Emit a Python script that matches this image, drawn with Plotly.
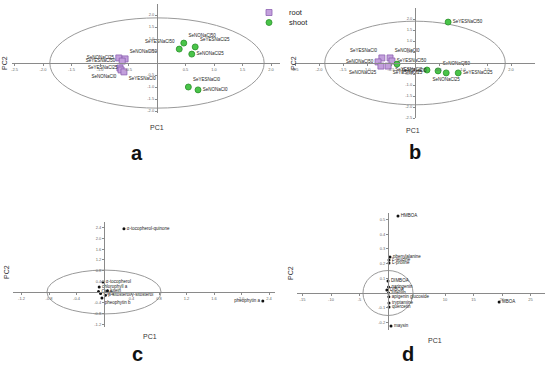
import plotly.graph_objects as go

W, H = 550, 378

# ---------------- data ----------------
# Panel a (scores)
a_root_names = ["SeNONaCl25", "SeNONaCl50", "SeYESNaCl25", "SeYESNaCl50", "SeNONaCl0", "SeYESNaCl0"]
a_root_x = [-0.67, -0.56, -0.61, -0.65, -0.63, -0.58]
a_root_y = [0.21, 0.17, 0.08, -0.21, -0.29, -0.37]
a_shoot_names = ["SeNONaCl50", "SeYESNaCl25", "SeYESNaCl50", "SeNONaCl25", "SeYESNaCl0", "SeNONaCl0"]
a_shoot_x = [0.47, 0.67, 0.39, 0.61, 0.55, 0.72]
a_shoot_y = [0.83, 0.67, 0.58, 0.37, -1.0, -1.12]
a_xticks = [-2.5, -2.0, -1.5, -1.0, -0.5, 0.5, 1.0, 1.5, 2.0]
a_yticks = [-2.0, -1.5, -1.0, -0.5, 0.5, 1.0, 1.5, 2.0]

# Panel b (scores)
b_root_names = ["SeYESNaCl0", "SeNONaCl0", "SeNONaCl50", "SeYESNaCl50", "SeNONaCl25", "SeYESNaCl25"]
b_root_x = [-0.69, -0.52, -0.77, -0.48, -0.71, -0.56]
b_root_y = [0.23, 0.23, 0.05, 0.09, -0.14, -0.14]
b_shoot_names = ["SeYESNaCl50", "SeNONaCl0", "SeYESNaCl0", "SeNONaCl50", "SeNONaCl25", "SeYESNaCl25"]
b_shoot_x = [0.69, -0.375, 0.25, 0.48, 0.65, 0.90]
b_shoot_y = [1.86, -0.05, -0.32, -0.36, -0.45, -0.45]
b_xticks = [-2.5, -2.0, -1.5, -1.0, -0.5, 0.5, 1.0, 1.5, 2.0]
b_yticks = [-2.5, -2.0, -1.5, -1.0, -0.5, 0.5, 1.0, 1.5, 2.0]

# Panel c (loadings)
c_names = ["α-tocopherol-quinone", "pheophytin a", "α-tocopherol", "chlorophyll a",
           "lutein", "Chl a", "Chl b", "β-sitosterol/γ-sitosterol", "pheophytin b"]
c_x = [0.29, 2.31, -0.015, -0.07, 0.05, -0.08, -0.05, 0.02, -0.03]
c_y = [2.36, -0.34, 0.37, 0.19, 0.05, 0.02, -0.06, -0.12, -0.22]
c_xticks = [-1.2, -0.8, -0.4, 0.4, 0.8, 1.2, 1.6, 2.0, 2.4]
c_yticks = [-1.2, -0.8, -0.4, 0.4, 0.8, 1.2, 1.6, 2.0, 2.4]

# Panel d (loadings)
d_names = ["HMBOA", "phenylalanine", "L-leucine", "L-proline", "DIMBOA", "naringenin",
           "DIBOA", "luteolin", "apigenin glucoside", "tryptamine", "quercetin", "maysin", "MBOA"]
d_x = [1.75, 0.35, 0.18, 0.18, 0.0, 0.1, -0.2, 0.1, 0.15, 0.18, 0.18, 0.53, 19.5]
d_y = [0.524, 0.245, 0.224, 0.204, 0.082, 0.04, 0.02, 0.0, -0.025, -0.068, -0.095, -0.224, -0.061]
d_xticks = [-15, -10, -5, 10, 15, 20, 25]
d_yticks = [-0.2, -0.1, 0.1, 0.2, 0.3, 0.4, 0.5]

# ---------------- layout helpers ----------------
fig = go.Figure()

AX = "#8a8a8a"
FAM = "Arial, Liberation Sans, sans-serif"
TICKF = dict(size=4, color="#666", family=FAM)
LABF = dict(size=4.5, color="#222", family=FAM)


def fmt(v):
    return ("%g" % v) if abs(v) >= 5 else ("%.1f" % v)


def panel(n, px_x0, px_x1, px_y0, px_y1, origin, xscale, yscale, xticks, yticks):
    ox, oy = origin
    xr = [(px_x0 - ox) / xscale, (px_x1 - ox) / xscale]
    yr = [(oy - px_y1) / yscale, (oy - px_y0) / yscale]
    xd = [px_x0 / W, px_x1 / W]
    yd = [1 - px_y1 / H, 1 - px_y0 / H]
    xpos = yd[0] + (0 - yr[0]) / (yr[1] - yr[0]) * (yd[1] - yd[0])
    ypos = xd[0] + (0 - xr[0]) / (xr[1] - xr[0]) * (xd[1] - xd[0])
    sfx = "" if n == 1 else str(n)
    fig.layout["xaxis" + sfx] = dict(
        domain=xd, range=xr, anchor="free", position=xpos, showline=True,
        linecolor=AX, linewidth=1, ticks="outside", ticklen=2, tickcolor=AX,
        tickvals=xticks, ticktext=[fmt(v) for v in xticks], tickfont=TICKF,
        showgrid=False, zeroline=False, fixedrange=True)
    fig.layout["yaxis" + sfx] = dict(
        domain=yd, range=yr, anchor="free", position=ypos, showline=True,
        linecolor=AX, linewidth=1, ticks="outside", ticklen=2, tickcolor=AX,
        tickvals=yticks, ticktext=[fmt(v) for v in yticks], tickfont=TICKF,
        showgrid=False, zeroline=False, fixedrange=True)
    return "x" + sfx, "y" + sfx


ax_a = panel(1, 12, 280, 4, 113, (157, 63), 57, 24, a_xticks, a_yticks)
ax_b = panel(2, 295, 535, 8, 118, (415, 63), 48, 22, b_xticks, b_yticks)
ax_c = panel(3, 13, 275, 222, 327, (104, 292), 68.75, 26.75, c_xticks, c_yticks)
ax_d = panel(4, 297, 545, 213, 330, (388, 293), 5.7, 147, d_xticks, d_yticks)

# Hotelling ellipses (radius per panel, data units)
ell = [(ax_a, 1.88, 1.88), (ax_b, 1.88, 1.90), (ax_c, 0.83, 0.82), (ax_d, 4.39, 0.153)]
for (xa, ya), rx, ry in ell:
    fig.add_shape(type="circle", xref=xa, yref=ya, x0=-rx, x1=rx, y0=-ry, y1=ry,
                  line=dict(color="#9a9a9a", width=1), layer="below")

ROOT_FILL, ROOT_LINE = "#c3a0dc", "#8e62b3"
SHOOT_FILL, SHOOT_LINE = "#49c449", "#2a8f2a"

# panel a
fig.add_trace(go.Scatter(x=a_root_x, y=a_root_y, xaxis="x", yaxis="y", mode="markers+text",
                         name="root", legend="legend", text=a_root_names,
                         textposition=["middle left", "top right", "bottom left", "top left",
                                       "bottom left", "bottom right"],
                         textfont=LABF, cliponaxis=False,
                         marker=dict(symbol="square", size=6, color=ROOT_FILL,
                                     line=dict(color=ROOT_LINE, width=0.8))))
fig.add_trace(go.Scatter(x=a_shoot_x, y=a_shoot_y, xaxis="x", yaxis="y", mode="markers+text",
                         name="shoot", legend="legend2", text=a_shoot_names,
                         textposition=["top right", "top right", "top left", "middle right",
                                       "top right", "middle right"],
                         textfont=LABF, cliponaxis=False,
                         marker=dict(symbol="circle", size=6, color=SHOOT_FILL,
                                     line=dict(color=SHOOT_LINE, width=0.8))))
# panel b
fig.add_trace(go.Scatter(x=b_root_x, y=b_root_y, xaxis="x2", yaxis="y2", mode="markers+text",
                         name="root", showlegend=False, text=b_root_names,
                         textposition=["top left", "top right", "middle left", "middle right",
                                       "bottom left", "bottom right"],
                         textfont=LABF, cliponaxis=False,
                         marker=dict(symbol="square", size=6, color=ROOT_FILL,
                                     line=dict(color=ROOT_LINE, width=0.8))))
fig.add_trace(go.Scatter(x=b_shoot_x, y=b_shoot_y, xaxis="x2", yaxis="y2", mode="markers+text",
                         name="shoot", showlegend=False, text=b_shoot_names,
                         textposition=["middle right", "bottom right", "middle left", "top right",
                                       "bottom center", "middle right"],
                         textfont=LABF, cliponaxis=False,
                         marker=dict(symbol="circle", size=6, color=SHOOT_FILL,
                                     line=dict(color=SHOOT_LINE, width=0.8))))
# panel c
fig.add_trace(go.Scatter(x=c_x, y=c_y, xaxis="x3", yaxis="y3", mode="markers+text",
                         showlegend=False, text=c_names,
                         textposition=["middle right", "middle left", "middle right", "middle right",
                                       "middle right", "middle right", "middle right",
                                       "middle right", "bottom right"],
                         textfont=LABF, cliponaxis=False,
                         marker=dict(symbol="circle", size=3, color="#111")))
# panel d
fig.add_trace(go.Scatter(x=d_x, y=d_y, xaxis="x4", yaxis="y4", mode="markers+text",
                         showlegend=False, text=d_names,
                         textposition="middle right",
                         textfont=LABF, cliponaxis=False,
                         marker=dict(symbol="circle", size=3, color="#111")))

# axis titles and panel letters
ann = []
CENT = dict(xref="paper", yref="paper", showarrow=False, xanchor="center", yanchor="middle")
for (x, y, t) in [(157, 127, "PC1"), (413, 130, "PC1"), (150, 336, "PC1"), (435, 340, "PC1")]:
    ann.append(dict(x=x / W, y=1 - y / H, text=t,
                    font=dict(size=7, color="#333", family=FAM), **CENT))
for (x, y) in [(5, 63), (294, 63), (6, 272), (290, 273)]:
    ann.append(dict(x=x / W, y=1 - y / H, text="PC2", textangle=-90,
                    font=dict(size=7, color="#333", family=FAM), **CENT))
for (x, y, t) in [(137, 153, "a"), (415, 152, "b"), (137, 354, "c"), (408, 354, "d")]:
    ann.append(dict(x=x / W, y=1 - y / H, text="<b>%s</b>" % t,
                    font=dict(size=20, color="#111", family=FAM), **CENT))

LEGF = dict(size=7.5, color="#222", family=FAM)
fig.update_layout(
    width=W, height=H, margin=dict(l=0, r=0, t=0, b=0, autoexpand=False),
    paper_bgcolor="white", plot_bgcolor="white",
    annotations=ann,
    legend=dict(x=249 / W, y=1 + 2 / H, xanchor="left", yanchor="top", font=LEGF,
                bgcolor="rgba(0,0,0,0)", itemwidth=30),
    legend2=dict(x=249 / W, y=1 - 8 / H, xanchor="left", yanchor="top", font=LEGF,
                 bgcolor="rgba(0,0,0,0)", itemwidth=30),
)

fig.write_html("out.html", config={"displayModeBar": False},
               post_script="document.body.style.margin='0';document.body.style.overflow='hidden';")
